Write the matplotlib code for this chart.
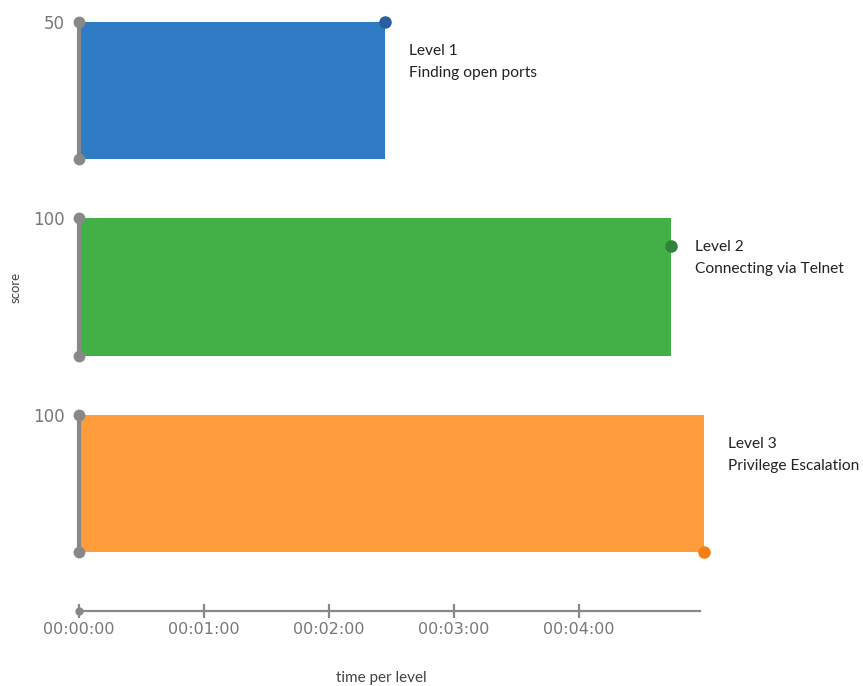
import matplotlib
matplotlib.use("Agg")
import matplotlib.pyplot as plt
from matplotlib.ticker import FuncFormatter

# data
levels = ["Level 1", "Level 2", "Level 3"]
level_names = ["Finding open ports", "Connecting via Telnet", "Privilege Escalation"]
max_scores = [50, 100, 100]
time_sec = [147, 284, 300]
scores = [50, 80, 0]
x_ticks_sec = [0, 60, 120, 180, 240]

bar_colors = ["#2f7bc4", "#43b047", "#ff9d3c"]
dot_colors = ["#2a5f9e", "#2e8239", "#f57f12"]
GRAY = "#888888"

W, H = 863, 686
fig = plt.figure(figsize=(W / 100, H / 100), dpi=100)


def frac(left, top, right, bottom):
    return [left / W, 1 - bottom / H, (right - left) / W, (bottom - top) / H]


x0, x1 = 79, 704
bands = [(22, 159), (218, 356), (415, 552)]
xmax = 300

for i, (top, bot) in enumerate(bands):
    ax = fig.add_axes(frac(x0, top, x1, bot))
    ax.set_xlim(0, xmax)
    ax.set_ylim(0, max_scores[i])
    ax.bar(0, max_scores[i], width=time_sec[i], align="edge", color=bar_colors[i],
           edgecolor="none", zorder=1)
    ax.plot([0, 0], [0, max_scores[i]], color=GRAY, lw=3, solid_capstyle="butt",
            zorder=3, clip_on=False)
    ax.plot([0, 0], [0, max_scores[i]], "o", color=GRAY, ms=7.5, zorder=4, clip_on=False)
    ax.plot(time_sec[i], scores[i], "o", color=dot_colors[i], ms=8, zorder=5, clip_on=False)
    for s in ax.spines.values():
        s.set_visible(False)
    ax.set_xticks([])
    ax.set_yticks([max_scores[i]])
    ax.tick_params(axis="y", length=0, pad=10, labelsize=12, labelcolor="#777777")
    ax.annotate(levels[i], (time_sec[i], max_scores[i]), xytext=(17.3, -20.8),
                textcoords="offset points", ha="left", va="center",
                fontsize=11.2, family="Lato", color="#222222", annotation_clip=False)
    ax.annotate(level_names[i], (time_sec[i], max_scores[i]), xytext=(17.3, -36.6),
                textcoords="offset points", ha="left", va="center",
                fontsize=11.2, family="Lato", color="#222222", annotation_clip=False)
    ax.patch.set_alpha(0)

# bottom time axis
axb = fig.add_axes(frac(x0, 600, x1, 611))
axb.set_xlim(0, xmax)
axb.set_ylim(0, 1)
axb.patch.set_alpha(0)
for k in ["top", "left", "right"]:
    axb.spines[k].set_visible(False)
axb.spines["bottom"].set_color(GRAY)
axb.spines["bottom"].set_linewidth(1.6)
axb.spines["bottom"].set_bounds(0, 298)
axb.plot(0, 0, "o", color=GRAY, ms=5, clip_on=False, zorder=5)
axb.set_yticks([])
axb.set_xticks(x_ticks_sec)
axb.xaxis.set_major_formatter(FuncFormatter(
    lambda v, _: f"{int(v) // 3600:02d}:{int(v) % 3600 // 60:02d}:{int(v) % 60:02d}"))
axb.tick_params(axis="x", direction="inout", length=10, width=1.6, color=GRAY,
                labelsize=11.5, labelcolor="#777777", pad=3)

fig.text(381 / W, 1 - 678 / H, "time per level", ha="center", va="center",
         fontsize=11, family="Lato", color="#444444")
fig.text(16 / W, 1 - 287 / H, "score", ha="center", va="center", rotation=90,
         fontsize=9.5, family="Lato", color="#444444")

fig.savefig("out.png", dpi=100)
